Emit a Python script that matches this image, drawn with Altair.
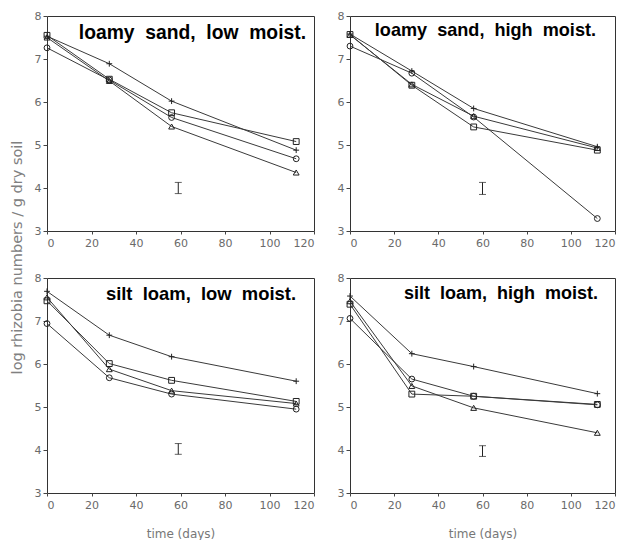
import altair as alt
import pandas as pd

days = [0, 28, 56, 112]
series = ["square", "plus", "circle", "triangle"]

titles = [
    "loamy\u00a0\u00a0sand,\u00a0\u00a0low\u00a0\u00a0moist.",
    "loamy\u00a0\u00a0sand,\u00a0\u00a0high\u00a0\u00a0moist.",
    "silt\u00a0\u00a0loam,\u00a0\u00a0low\u00a0\u00a0moist.",
    "silt\u00a0\u00a0loam,\u00a0\u00a0high\u00a0\u00a0moist.",
]

# loamy sand, low moisture
ls_low_square = [7.55, 6.53, 5.75, 5.08]
ls_low_plus = [7.53, 6.89, 6.02, 4.88]
ls_low_circle = [7.26, 6.51, 5.64, 4.68]
ls_low_triangle = [7.50, 6.49, 5.43, 4.36]

# loamy sand, high moisture
ls_high_square = [7.57, 6.39, 5.42, 4.88]
ls_high_plus = [7.58, 6.72, 5.85, 4.96]
ls_high_circle = [7.30, 6.67, 5.65, 3.29]
ls_high_triangle = [7.56, 6.41, 5.67, 4.93]

# silt loam, low moisture
sl_low_square = [7.47, 6.01, 5.62, 5.13]
sl_low_plus = [7.69, 6.67, 6.17, 5.60]
sl_low_circle = [6.94, 5.68, 5.30, 4.95]
sl_low_triangle = [7.55, 5.88, 5.38, 5.08]

# silt loam, high moisture
sl_high_square = [7.39, 5.30, 5.25, 5.06]
sl_high_plus = [7.58, 6.24, 5.94, 5.31]
sl_high_circle = [7.06, 5.65, 5.25, 5.05]
sl_high_triangle = [7.46, 5.49, 4.98, 4.40]

# error bar (LSD) per panel: day, low, high
err_day = [59, 60, 59, 60]
err_lo = [3.87, 3.85, 3.90, 3.85]
err_hi = [4.13, 4.13, 4.15, 4.10]

panel_series = [
    [ls_low_square, ls_low_plus, ls_low_circle, ls_low_triangle],
    [ls_high_square, ls_high_plus, ls_high_circle, ls_high_triangle],
    [sl_low_square, sl_low_plus, sl_low_circle, sl_low_triangle],
    [sl_high_square, sl_high_plus, sl_high_circle, sl_high_triangle],
]

# title placement (pixels inside each plot area) and size
title_x = [259, 246, 249, 248]
title_y = [17, 15, 16, 16]
title_size = [19.3, 18.1, 18.4, 18.0]
widths = [267, 265, 267, 265]
H = 215

LINE = "#3a3a3a"
TXT = "#6a6a6a"
PLUS = "M-1,0L1,0M0,-1L0,1"

shape_scale = alt.Scale(domain=series, range=["square", PLUS, "circle", "triangle-up"])
xs = alt.Scale(domain=[0, 120], nice=False, zero=False)
ys = alt.Scale(domain=[3, 8], nice=False, zero=False)


def panel(i):
    rows = []
    for s, vals in zip(series, panel_series[i]):
        for d, v in zip(days, vals):
            rows.append({"day": d, "value": v, "series": s})
    df = pd.DataFrame(rows)

    bottom = i in (2, 3)

    yaxis_kwargs = dict(values=[3, 4, 5, 6, 7, 8], tickSize=4, labelPadding=2)
    if i == 0:
        ytitle = "log rhizobia numbers / g dry soil"
        yaxis = alt.Axis(
            titleY=241,
            titlePadding=10,
            titleFont="DejaVu Sans",
            titleFontSize=14.5,
            titleFontWeight="normal",
            titleColor="#808080",
            **yaxis_kwargs,
        )
    else:
        ytitle = None
        yaxis = alt.Axis(**yaxis_kwargs)

    xaxis_kwargs = dict(values=[0, 20, 40, 60, 80, 100, 120], tickSize=3, labelPadding=3)
    if bottom:
        xtitle = "time (days)"
        xaxis = alt.Axis(
            titlePadding=18,
            titleFont="DejaVu Sans",
            titleFontSize=12,
            titleFontWeight="normal",
            titleColor="#777777",
            **xaxis_kwargs,
        )
    else:
        xtitle = None
        xaxis = alt.Axis(**xaxis_kwargs)

    X = lambda f: alt.X(f, scale=xs, axis=xaxis, title=xtitle)
    Y = lambda f: alt.Y(f, scale=ys, axis=yaxis, title=ytitle)

    base = alt.Chart(df)
    lines = base.mark_line(color=LINE, strokeWidth=1).encode(
        x=X("day:Q"),
        y=Y("value:Q"),
        detail="series:N",
    )
    pts = base.mark_point(filled=False, color="#222222", strokeWidth=1, size=34, opacity=1).encode(
        x=X("day:Q"),
        y=Y("value:Q"),
        shape=alt.Shape("series:N", scale=shape_scale, legend=None),
    )
    edf = pd.DataFrame({"day": [err_day[i]], "lo": [err_lo[i]], "hi": [err_hi[i]]})
    err = alt.Chart(edf).mark_errorbar(ticks=True, size=7, thickness=1, color="#222222").encode(
        x=X("day:Q"),
        y=Y("lo:Q"),
        y2="hi:Q",
    )
    tdf = pd.DataFrame({"t": [titles[i]]})
    ttl = alt.Chart(tdf).mark_text(
        align="right",
        baseline="middle",
        font="Liberation Sans",
        fontWeight="bold",
        fontSize=title_size[i],
        color="#000000",
    ).encode(x=alt.value(title_x[i]), y=alt.value(title_y[i]), text="t:N")

    return alt.layer(lines, pts, err, ttl).properties(width=widths[i], height=H)


chart = alt.concat(
    panel(0), panel(1), panel(2), panel(3),
    columns=2,
    spacing={"row": 47, "column": 36},
    bounds="flush",
).properties(
    padding={"left": 0, "top": 1, "right": 0, "bottom": 0},
    background="white",
).configure_view(
    stroke="#333333", strokeWidth=1
).configure_axis(
    grid=False,
    domain=False,
    tickColor="#444444",
    labelColor=TXT,
    labelFont="DejaVu Sans",
    labelFontSize=11,
)

chart.save("out.html", embed_options={"renderer": "svg", "actions": False})
